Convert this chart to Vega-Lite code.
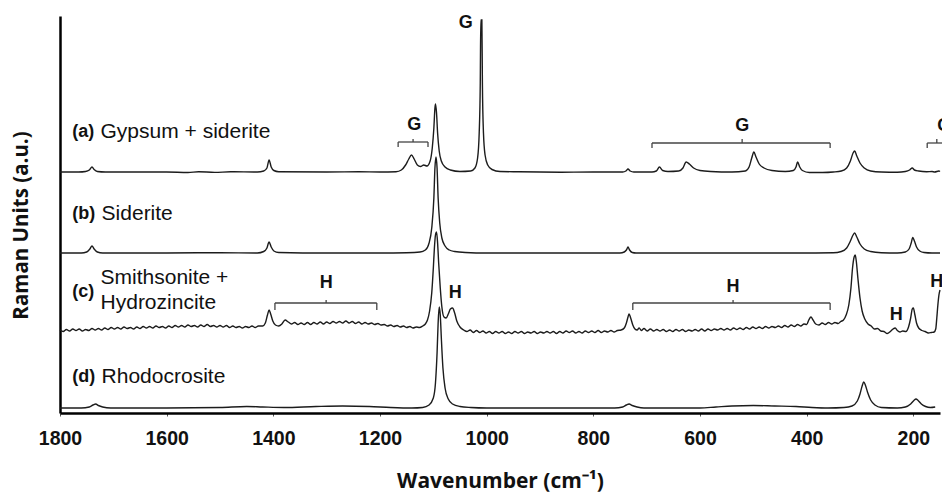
{
  "$schema": "https://vega.github.io/schema/vega-lite/v6.json",
  "width": 880,
  "height": 397,
  "autosize": {"type": "none"},
  "padding": {"left": 60, "top": 16, "right": 2, "bottom": 79},
  "background": "white",
  "config": {"view": {"stroke": null}},
  "datasets": {
    "spec": [
      {"s":"a","x":1800,"y":241},{"s":"a","x":1765,"y":241},{"s":"a","x":1752,"y":241.5},{"s":"a","x":1745,"y":243},{"s":"a","x":1740,"y":246},{"s":"a","x":1736,"y":243.5},{"s":"a","x":1730,"y":241.5},{"s":"a","x":1715,"y":241},{"s":"a","x":1600,"y":241},{"s":"a","x":1560,"y":240.5},{"s":"a","x":1540,"y":241.3},{"s":"a","x":1510,"y":240.6},{"s":"a","x":1480,"y":241.2},{"s":"a","x":1430,"y":241},{"s":"a","x":1418,"y":242},{"s":"a","x":1412,"y":245},{"s":"a","x":1408,"y":253},{"s":"a","x":1404,"y":246},{"s":"a","x":1399,"y":242.5},{"s":"a","x":1390,"y":241.3},{"s":"a","x":1300,"y":241},{"s":"a","x":1240,"y":241.3},{"s":"a","x":1200,"y":241},{"s":"a","x":1170,"y":241.3},{"s":"a","x":1160,"y":243},{"s":"a","x":1152,"y":248},{"s":"a","x":1146,"y":254},{"s":"a","x":1141,"y":258},{"s":"a","x":1136,"y":254},{"s":"a","x":1130,"y":248},{"s":"a","x":1124,"y":246.5},{"s":"a","x":1118,"y":248},{"s":"a","x":1112,"y":247},{"s":"a","x":1106,"y":252},{"s":"a","x":1102,"y":265},{"s":"a","x":1099,"y":285},{"s":"a","x":1097,"y":305},{"s":"a","x":1096,"y":309},{"s":"a","x":1094,"y":300},{"s":"a","x":1092,"y":280},{"s":"a","x":1089,"y":262},{"s":"a","x":1085,"y":252},{"s":"a","x":1078,"y":246},{"s":"a","x":1068,"y":243},{"s":"a","x":1050,"y":241.5},{"s":"a","x":1030,"y":242},{"s":"a","x":1022,"y":245},{"s":"a","x":1017,"y":255},{"s":"a","x":1014,"y":280},{"s":"a","x":1012,"y":330},{"s":"a","x":1011,"y":393},{"s":"a","x":1009,"y":393},{"s":"a","x":1008,"y":330},{"s":"a","x":1006,"y":280},{"s":"a","x":1003,"y":258},{"s":"a","x":998,"y":248},{"s":"a","x":990,"y":243.5},{"s":"a","x":975,"y":241.5},{"s":"a","x":940,"y":241.2},{"s":"a","x":860,"y":240.8},{"s":"a","x":800,"y":241},{"s":"a","x":745,"y":241},{"s":"a","x":739,"y":242},{"s":"a","x":735,"y":244},{"s":"a","x":731,"y":242},{"s":"a","x":724,"y":241},{"s":"a","x":690,"y":241},{"s":"a","x":682,"y":242},{"s":"a","x":676,"y":246},{"s":"a","x":670,"y":242.5},{"s":"a","x":660,"y":241.5},{"s":"a","x":640,"y":242},{"s":"a","x":632,"y":245},{"s":"a","x":626,"y":251},{"s":"a","x":620,"y":249},{"s":"a","x":612,"y":245},{"s":"a","x":600,"y":242.5},{"s":"a","x":580,"y":241.5},{"s":"a","x":540,"y":241},{"s":"a","x":515,"y":242},{"s":"a","x":508,"y":246},{"s":"a","x":503,"y":255},{"s":"a","x":499,"y":261},{"s":"a","x":495,"y":256},{"s":"a","x":489,"y":249},{"s":"a","x":480,"y":245},{"s":"a","x":465,"y":242.5},{"s":"a","x":440,"y":241.5},{"s":"a","x":425,"y":242.5},{"s":"a","x":420,"y":246},{"s":"a","x":417,"y":251},{"s":"a","x":413,"y":246},{"s":"a","x":408,"y":242.5},{"s":"a","x":395,"y":240.5},{"s":"a","x":370,"y":240.5},{"s":"a","x":350,"y":241},{"s":"a","x":335,"y":242},{"s":"a","x":325,"y":245},{"s":"a","x":318,"y":252},{"s":"a","x":313,"y":260},{"s":"a","x":310,"y":262},{"s":"a","x":306,"y":257},{"s":"a","x":300,"y":250},{"s":"a","x":292,"y":245},{"s":"a","x":280,"y":242},{"s":"a","x":260,"y":241},{"s":"a","x":230,"y":240.8},{"s":"a","x":215,"y":241.5},{"s":"a","x":207,"y":243},{"s":"a","x":202,"y":245},{"s":"a","x":198,"y":243},{"s":"a","x":190,"y":242},{"s":"a","x":175,"y":241.3},{"s":"a","x":165,"y":241.5},{"s":"a","x":160,"y":241},{"s":"a","x":152,"y":242},{"s":"a","x":150,"y":241.5},

      {"s":"b","x":1800,"y":160},{"s":"b","x":1760,"y":160},{"s":"b","x":1750,"y":161},{"s":"b","x":1744,"y":164},{"s":"b","x":1740,"y":167},{"s":"b","x":1736,"y":164},{"s":"b","x":1730,"y":161},{"s":"b","x":1720,"y":160},{"s":"b","x":1600,"y":160},{"s":"b","x":1500,"y":160.3},{"s":"b","x":1430,"y":160},{"s":"b","x":1418,"y":161.5},{"s":"b","x":1412,"y":165},{"s":"b","x":1408,"y":171},{"s":"b","x":1404,"y":166},{"s":"b","x":1399,"y":162},{"s":"b","x":1390,"y":160.5},{"s":"b","x":1300,"y":160},{"s":"b","x":1200,"y":160},{"s":"b","x":1150,"y":160.3},{"s":"b","x":1125,"y":161},{"s":"b","x":1115,"y":163},{"s":"b","x":1108,"y":170},{"s":"b","x":1103,"y":185},{"s":"b","x":1099,"y":215},{"s":"b","x":1097,"y":245},{"s":"b","x":1095,"y":256},{"s":"b","x":1093,"y":245},{"s":"b","x":1091,"y":215},{"s":"b","x":1088,"y":190},{"s":"b","x":1084,"y":175},{"s":"b","x":1078,"y":167},{"s":"b","x":1070,"y":163},{"s":"b","x":1060,"y":161.5},{"s":"b","x":1040,"y":160.5},{"s":"b","x":1000,"y":160},{"s":"b","x":900,"y":160},{"s":"b","x":750,"y":160},{"s":"b","x":742,"y":161},{"s":"b","x":738,"y":163},{"s":"b","x":735,"y":166},{"s":"b","x":732,"y":163},{"s":"b","x":727,"y":160.5},{"s":"b","x":720,"y":160},{"s":"b","x":600,"y":160},{"s":"b","x":500,"y":160},{"s":"b","x":400,"y":160},{"s":"b","x":350,"y":160.2},{"s":"b","x":335,"y":161.5},{"s":"b","x":325,"y":165},{"s":"b","x":318,"y":172},{"s":"b","x":313,"y":178},{"s":"b","x":310,"y":180},{"s":"b","x":306,"y":176},{"s":"b","x":300,"y":169},{"s":"b","x":292,"y":164},{"s":"b","x":280,"y":161.5},{"s":"b","x":260,"y":160.3},{"s":"b","x":230,"y":160},{"s":"b","x":215,"y":161},{"s":"b","x":208,"y":164},{"s":"b","x":204,"y":170},{"s":"b","x":201,"y":175.5},{"s":"b","x":198,"y":172},{"s":"b","x":194,"y":166},{"s":"b","x":188,"y":162},{"s":"b","x":180,"y":160.5},{"s":"b","x":165,"y":160},{"s":"b","x":150,"y":160},

      {"s":"c","x":1800,"y":83},{"s":"c","x":1794,"y":81.5},{"s":"c","x":1788,"y":83.5},{"s":"c","x":1782,"y":82},{"s":"c","x":1776,"y":84},{"s":"c","x":1770,"y":82.5},{"s":"c","x":1764,"y":84},{"s":"c","x":1758,"y":82},{"s":"c","x":1752,"y":83.5},{"s":"c","x":1746,"y":82.5},{"s":"c","x":1740,"y":84.5},{"s":"c","x":1734,"y":83},{"s":"c","x":1728,"y":84.5},{"s":"c","x":1722,"y":83},{"s":"c","x":1716,"y":85},{"s":"c","x":1710,"y":83.5},{"s":"c","x":1704,"y":85.5},{"s":"c","x":1698,"y":84},{"s":"c","x":1692,"y":85.5},{"s":"c","x":1686,"y":84},{"s":"c","x":1680,"y":86},{"s":"c","x":1674,"y":84.5},{"s":"c","x":1668,"y":85.5},{"s":"c","x":1662,"y":84},{"s":"c","x":1656,"y":86},{"s":"c","x":1650,"y":84.5},{"s":"c","x":1644,"y":86.5},{"s":"c","x":1638,"y":85},{"s":"c","x":1632,"y":86.5},{"s":"c","x":1626,"y":85},{"s":"c","x":1620,"y":87},{"s":"c","x":1614,"y":85.5},{"s":"c","x":1608,"y":86.5},{"s":"c","x":1602,"y":85},{"s":"c","x":1596,"y":87},{"s":"c","x":1590,"y":85.5},{"s":"c","x":1584,"y":87.5},{"s":"c","x":1578,"y":86},{"s":"c","x":1572,"y":87.5},{"s":"c","x":1566,"y":86},{"s":"c","x":1560,"y":88},{"s":"c","x":1554,"y":86.5},{"s":"c","x":1548,"y":87.5},{"s":"c","x":1542,"y":86},{"s":"c","x":1536,"y":88},{"s":"c","x":1530,"y":86.5},{"s":"c","x":1524,"y":88.5},{"s":"c","x":1518,"y":86.5},{"s":"c","x":1512,"y":87.5},{"s":"c","x":1506,"y":86},{"s":"c","x":1500,"y":87.5},{"s":"c","x":1494,"y":86},{"s":"c","x":1488,"y":87.5},{"s":"c","x":1482,"y":85.5},{"s":"c","x":1476,"y":87},{"s":"c","x":1470,"y":85.5},{"s":"c","x":1464,"y":86.5},{"s":"c","x":1458,"y":85},{"s":"c","x":1452,"y":86.5},{"s":"c","x":1446,"y":85.5},{"s":"c","x":1440,"y":87},{"s":"c","x":1434,"y":85.5},{"s":"c","x":1428,"y":87},{"s":"c","x":1420,"y":87},{"s":"c","x":1415,"y":90},{"s":"c","x":1411,"y":98},{"s":"c","x":1408,"y":103},{"s":"c","x":1405,"y":99},{"s":"c","x":1401,"y":92},{"s":"c","x":1396,"y":88},{"s":"c","x":1390,"y":87},{"s":"c","x":1384,"y":89},{"s":"c","x":1378,"y":93},{"s":"c","x":1372,"y":91},{"s":"c","x":1366,"y":89},{"s":"c","x":1360,"y":90.5},{"s":"c","x":1354,"y":88.5},{"s":"c","x":1348,"y":90},{"s":"c","x":1342,"y":88.5},{"s":"c","x":1336,"y":90.5},{"s":"c","x":1330,"y":88.5},{"s":"c","x":1324,"y":90.5},{"s":"c","x":1318,"y":89},{"s":"c","x":1312,"y":91},{"s":"c","x":1306,"y":89},{"s":"c","x":1300,"y":91},{"s":"c","x":1294,"y":89.5},{"s":"c","x":1288,"y":91.5},{"s":"c","x":1282,"y":90},{"s":"c","x":1276,"y":91.5},{"s":"c","x":1270,"y":90},{"s":"c","x":1264,"y":92},{"s":"c","x":1258,"y":90},{"s":"c","x":1252,"y":91.5},{"s":"c","x":1246,"y":89.5},{"s":"c","x":1240,"y":91},{"s":"c","x":1234,"y":89},{"s":"c","x":1228,"y":90.5},{"s":"c","x":1222,"y":89},{"s":"c","x":1216,"y":90},{"s":"c","x":1210,"y":88.5},{"s":"c","x":1204,"y":89.5},{"s":"c","x":1198,"y":88},{"s":"c","x":1192,"y":88.5},{"s":"c","x":1186,"y":87},{"s":"c","x":1180,"y":88},{"s":"c","x":1174,"y":86.5},{"s":"c","x":1168,"y":87.5},{"s":"c","x":1162,"y":86},{"s":"c","x":1156,"y":87},{"s":"c","x":1150,"y":85.5},{"s":"c","x":1144,"y":86.5},{"s":"c","x":1138,"y":85},{"s":"c","x":1132,"y":86},{"s":"c","x":1126,"y":85.5},{"s":"c","x":1120,"y":87},{"s":"c","x":1115,"y":89},{"s":"c","x":1111,"y":93},{"s":"c","x":1107,"y":102},{"s":"c","x":1103,"y":120},{"s":"c","x":1100,"y":145},{"s":"c","x":1098,"y":165},{"s":"c","x":1096,"y":178},{"s":"c","x":1094,"y":181},{"s":"c","x":1092,"y":170},{"s":"c","x":1090,"y":150},{"s":"c","x":1087,"y":125},{"s":"c","x":1084,"y":106},{"s":"c","x":1080,"y":96},{"s":"c","x":1076,"y":95},{"s":"c","x":1072,"y":99},{"s":"c","x":1068,"y":104},{"s":"c","x":1064,"y":105},{"s":"c","x":1060,"y":100},{"s":"c","x":1056,"y":92},{"s":"c","x":1050,"y":86},{"s":"c","x":1043,"y":83},{"s":"c","x":1037,"y":81.5},{"s":"c","x":1031,"y":83},{"s":"c","x":1025,"y":80.5},{"s":"c","x":1019,"y":82.5},{"s":"c","x":1013,"y":80.5},{"s":"c","x":1007,"y":82},{"s":"c","x":1001,"y":80},{"s":"c","x":995,"y":81.5},{"s":"c","x":989,"y":79.5},{"s":"c","x":983,"y":81.5},{"s":"c","x":977,"y":80},{"s":"c","x":971,"y":81.5},{"s":"c","x":965,"y":79.5},{"s":"c","x":959,"y":81},{"s":"c","x":953,"y":79.5},{"s":"c","x":947,"y":81.5},{"s":"c","x":941,"y":80},{"s":"c","x":935,"y":81.5},{"s":"c","x":929,"y":79.5},{"s":"c","x":923,"y":81},{"s":"c","x":917,"y":80},{"s":"c","x":911,"y":81.5},{"s":"c","x":905,"y":79.5},{"s":"c","x":899,"y":81},{"s":"c","x":893,"y":80},{"s":"c","x":887,"y":81.5},{"s":"c","x":881,"y":80},{"s":"c","x":875,"y":81.5},{"s":"c","x":869,"y":79.5},{"s":"c","x":863,"y":81.5},{"s":"c","x":857,"y":80},{"s":"c","x":851,"y":82},{"s":"c","x":845,"y":80.5},{"s":"c","x":839,"y":82},{"s":"c","x":833,"y":80},{"s":"c","x":827,"y":81.5},{"s":"c","x":821,"y":80},{"s":"c","x":815,"y":82},{"s":"c","x":809,"y":80.5},{"s":"c","x":803,"y":82},{"s":"c","x":797,"y":80.5},{"s":"c","x":791,"y":82.5},{"s":"c","x":785,"y":80.5},{"s":"c","x":779,"y":82},{"s":"c","x":773,"y":81},{"s":"c","x":767,"y":82.5},{"s":"c","x":761,"y":81},{"s":"c","x":755,"y":82.5},{"s":"c","x":748,"y":83},{"s":"c","x":742,"y":85},{"s":"c","x":738,"y":90},{"s":"c","x":735,"y":96},{"s":"c","x":733,"y":99},{"s":"c","x":730,"y":95},{"s":"c","x":726,"y":88},{"s":"c","x":722,"y":84},{"s":"c","x":718,"y":83},{"s":"c","x":714,"y":85},{"s":"c","x":710,"y":82.5},{"s":"c","x":705,"y":84.5},{"s":"c","x":699,"y":82},{"s":"c","x":693,"y":84},{"s":"c","x":687,"y":82},{"s":"c","x":681,"y":83.5},{"s":"c","x":675,"y":82},{"s":"c","x":669,"y":83.5},{"s":"c","x":663,"y":81.5},{"s":"c","x":657,"y":83},{"s":"c","x":651,"y":81.5},{"s":"c","x":645,"y":83.5},{"s":"c","x":639,"y":82},{"s":"c","x":633,"y":83.5},{"s":"c","x":627,"y":81.5},{"s":"c","x":621,"y":83},{"s":"c","x":615,"y":82},{"s":"c","x":609,"y":83.5},{"s":"c","x":603,"y":82},{"s":"c","x":597,"y":84},{"s":"c","x":591,"y":82},{"s":"c","x":585,"y":84},{"s":"c","x":579,"y":82.5},{"s":"c","x":573,"y":84},{"s":"c","x":567,"y":83},{"s":"c","x":561,"y":84.5},{"s":"c","x":555,"y":83},{"s":"c","x":549,"y":84.5},{"s":"c","x":543,"y":83},{"s":"c","x":537,"y":85},{"s":"c","x":531,"y":83.5},{"s":"c","x":525,"y":85},{"s":"c","x":519,"y":83.5},{"s":"c","x":513,"y":85.5},{"s":"c","x":507,"y":84},{"s":"c","x":501,"y":86},{"s":"c","x":495,"y":84.5},{"s":"c","x":489,"y":86},{"s":"c","x":483,"y":84.5},{"s":"c","x":477,"y":86.5},{"s":"c","x":471,"y":85},{"s":"c","x":465,"y":86.5},{"s":"c","x":459,"y":85.5},{"s":"c","x":453,"y":87},{"s":"c","x":447,"y":85.5},{"s":"c","x":441,"y":87.5},{"s":"c","x":435,"y":86},{"s":"c","x":429,"y":88},{"s":"c","x":423,"y":86.5},{"s":"c","x":417,"y":88.5},{"s":"c","x":411,"y":87},{"s":"c","x":405,"y":89},{"s":"c","x":400,"y":88.5},{"s":"c","x":396,"y":93},{"s":"c","x":392,"y":96},{"s":"c","x":388,"y":93},{"s":"c","x":383,"y":89},{"s":"c","x":377,"y":88},{"s":"c","x":371,"y":90},{"s":"c","x":365,"y":88.5},{"s":"c","x":359,"y":90.5},{"s":"c","x":353,"y":89},{"s":"c","x":347,"y":90.5},{"s":"c","x":341,"y":89.5},{"s":"c","x":336,"y":91.5},{"s":"c","x":331,"y":93},{"s":"c","x":326,"y":98},{"s":"c","x":321,"y":108},{"s":"c","x":317,"y":125},{"s":"c","x":314,"y":145},{"s":"c","x":311,"y":156},{"s":"c","x":309,"y":158},{"s":"c","x":307,"y":152},{"s":"c","x":304,"y":135},{"s":"c","x":300,"y":115},{"s":"c","x":296,"y":102},{"s":"c","x":291,"y":94},{"s":"c","x":285,"y":89},{"s":"c","x":279,"y":87},{"s":"c","x":273,"y":84},{"s":"c","x":267,"y":84.5},{"s":"c","x":261,"y":82},{"s":"c","x":255,"y":81.5},{"s":"c","x":249,"y":79.5},{"s":"c","x":243,"y":81.5},{"s":"c","x":238,"y":84},{"s":"c","x":234,"y":85},{"s":"c","x":230,"y":82.5},{"s":"c","x":225,"y":81},{"s":"c","x":220,"y":82},{"s":"c","x":214,"y":81.5},{"s":"c","x":209,"y":86},{"s":"c","x":205,"y":95},{"s":"c","x":202,"y":104},{"s":"c","x":200,"y":105},{"s":"c","x":197,"y":98},{"s":"c","x":194,"y":90},{"s":"c","x":190,"y":85},{"s":"c","x":184,"y":82.5},{"s":"c","x":178,"y":81.5},{"s":"c","x":172,"y":80},{"s":"c","x":166,"y":80.5},{"s":"c","x":161,"y":81},{"s":"c","x":158,"y":84},{"s":"c","x":156,"y":95},{"s":"c","x":154,"y":108},{"s":"c","x":152,"y":118},{"s":"c","x":150,"y":123},

      {"s":"d","x":1800,"y":5},{"s":"d","x":1760,"y":5},{"s":"d","x":1745,"y":6},{"s":"d","x":1738,"y":8},{"s":"d","x":1733,"y":9},{"s":"d","x":1728,"y":7.5},{"s":"d","x":1720,"y":6},{"s":"d","x":1705,"y":5},{"s":"d","x":1600,"y":5},{"s":"d","x":1500,"y":5.5},{"s":"d","x":1450,"y":6.5},{"s":"d","x":1420,"y":6},{"s":"d","x":1380,"y":5.5},{"s":"d","x":1320,"y":6.5},{"s":"d","x":1270,"y":7},{"s":"d","x":1220,"y":6.5},{"s":"d","x":1180,"y":5.5},{"s":"d","x":1140,"y":5},{"s":"d","x":1120,"y":5.5},{"s":"d","x":1108,"y":8},{"s":"d","x":1100,"y":15},{"s":"d","x":1096,"y":30},{"s":"d","x":1093,"y":60},{"s":"d","x":1091,"y":90},{"s":"d","x":1089,"y":106},{"s":"d","x":1087,"y":98},{"s":"d","x":1085,"y":75},{"s":"d","x":1082,"y":45},{"s":"d","x":1078,"y":25},{"s":"d","x":1072,"y":14},{"s":"d","x":1064,"y":9},{"s":"d","x":1050,"y":6.5},{"s":"d","x":1030,"y":5.5},{"s":"d","x":1000,"y":5},{"s":"d","x":900,"y":5},{"s":"d","x":760,"y":5},{"s":"d","x":745,"y":6},{"s":"d","x":738,"y":8},{"s":"d","x":733,"y":9},{"s":"d","x":727,"y":7.5},{"s":"d","x":718,"y":6},{"s":"d","x":705,"y":5},{"s":"d","x":650,"y":5},{"s":"d","x":600,"y":5},{"s":"d","x":570,"y":6},{"s":"d","x":540,"y":7},{"s":"d","x":500,"y":7.5},{"s":"d","x":460,"y":7},{"s":"d","x":420,"y":6.5},{"s":"d","x":390,"y":5.5},{"s":"d","x":360,"y":5},{"s":"d","x":330,"y":5.5},{"s":"d","x":315,"y":7},{"s":"d","x":305,"y":12},{"s":"d","x":300,"y":19},{"s":"d","x":296,"y":27},{"s":"d","x":293,"y":31},{"s":"d","x":290,"y":28},{"s":"d","x":286,"y":21},{"s":"d","x":280,"y":13},{"s":"d","x":272,"y":8},{"s":"d","x":260,"y":5.5},{"s":"d","x":230,"y":5},{"s":"d","x":215,"y":6},{"s":"d","x":205,"y":9},{"s":"d","x":199,"y":12.5},{"s":"d","x":195,"y":14},{"s":"d","x":191,"y":12.5},{"s":"d","x":185,"y":9},{"s":"d","x":177,"y":6.5},{"s":"d","x":168,"y":5.5},{"s":"d","x":159,"y":6}
    ],
    "tags": [
      {"t":"(a)","x":1777,"y":281},
      {"t":"(b)","x":1777,"y":199},
      {"t":"(c)","x":1777,"y":121},
      {"t":"(d)","x":1777,"y":36}
    ],
    "names": [
      {"t":"Gypsum + siderite","x":1724,"y":281},
      {"t":"Siderite","x":1722,"y":199},
      {"t":"Smithsonite +","x":1724,"y":135},
      {"t":"Hydrozincite","x":1724,"y":110},
      {"t":"Rhodocrosite","x":1722,"y":36}
    ],
    "letters": [
      {"t":"G","x":1039,"y":390},
      {"t":"G","x":1136,"y":288},
      {"t":"G","x":521,"y":287},
      {"t":"G","x":142,"y":287},
      {"t":"H","x":1301,"y":130},
      {"t":"H","x":1059,"y":120},
      {"t":"H","x":538,"y":126},
      {"t":"H","x":232,"y":98},
      {"t":"H","x":156,"y":131}
    ],
    "brackets": [
      {"x":1166,"x2":1110,"y":271,"y2":271},{"x":1166,"x2":1166,"y":271,"y2":266},{"x":1110,"x2":1110,"y":271,"y2":266},{"x":1138,"x2":1138,"y":271,"y2":274},
      {"x":690,"x2":356,"y":270,"y2":270},{"x":690,"x2":690,"y":270,"y2":265},{"x":356,"x2":356,"y":270,"y2":265},{"x":521,"x2":521,"y":270,"y2":274},
      {"x":174,"x2":135,"y":270,"y2":270},{"x":174,"x2":174,"y":270,"y2":265},{"x":156,"x2":156,"y":270,"y2":274},
      {"x":1397,"x2":1206,"y":110,"y2":110},{"x":1397,"x2":1397,"y":110,"y2":103},{"x":1206,"x2":1206,"y":110,"y2":103},{"x":1301,"x2":1301,"y":110,"y2":113},
      {"x":726,"x2":356,"y":110,"y2":110},{"x":726,"x2":726,"y":110,"y2":103},{"x":356,"x2":356,"y":110,"y2":103},{"x":538,"x2":538,"y":110,"y2":113}
    ]
  },
  "layer": [
    {
      "data": {"name": "brackets"},
      "mark": {"type": "rule", "color": "#444", "strokeWidth": 1.3},
      "encoding": {
        "x": {"field": "x", "type": "quantitative"},
        "x2": {"field": "x2"},
        "y": {"field": "y", "type": "quantitative"},
        "y2": {"field": "y2"}
      }
    },
    {
      "data": {"name": "spec"},
      "mark": {"type": "line", "color": "#1c1c1c", "strokeWidth": 1.4, "interpolate": "monotone"},
      "encoding": {
        "x": {
          "field": "x", "type": "quantitative",
          "scale": {"domain": [150, 1800], "reverse": true, "nice": false, "zero": false},
          "axis": {
            "title": "Wavenumber (cm⁻¹)",
            "values": [200, 400, 600, 800, 1000, 1200, 1400, 1600, 1800],
            "format": "d",
            "grid": false,
            "labelFlush": false,
            "labelOverlap": false,
            "labelBound": false,
            "labelFont": "Liberation Sans",
            "labelFontSize": 19.5,
            "labelFontWeight": "bold",
            "labelColor": "#111",
            "labelBaseline": "alphabetic",
            "labelPadding": 28,
            "domainColor": "#000",
            "domainWidth": 2.5,
            "tickColor": "#555",
            "tickSize": 3,
            "tickWidth": 1,
            "titleFont": "Open Sans",
            "titleFontSize": 21,
            "titleFontWeight": "bold",
            "titleColor": "#111",
            "titleBaseline": "alphabetic",
            "titleY": 74
          }
        },
        "y": {
          "field": "y", "type": "quantitative",
          "scale": {"domain": [0, 397], "nice": false, "zero": false},
          "axis": {
            "title": "Raman Units (a.u.)",
            "labels": false,
            "ticks": false,
            "grid": false,
            "domainColor": "#000",
            "domainWidth": 2.5,
            "titleFont": "Open Sans",
            "titleFontSize": 20.5,
            "titleFontWeight": "bold",
            "titleColor": "#111",
            "titleBaseline": "middle",
            "titleAlign": "center",
            "titleAngle": -90,
            "titleX": -39,
            "titleY": 209
          }
        },
        "detail": {"field": "s"}
      }
    },
    {
      "data": {"name": "tags"},
      "mark": {"type": "text", "align": "left", "baseline": "middle", "font": "Liberation Sans", "fontSize": 18, "fontWeight": "bold", "color": "#111"},
      "encoding": {
        "x": {"field": "x", "type": "quantitative"},
        "y": {"field": "y", "type": "quantitative"},
        "text": {"field": "t"}
      }
    },
    {
      "data": {"name": "names"},
      "mark": {"type": "text", "align": "left", "baseline": "middle", "font": "Liberation Sans", "fontSize": 21, "color": "#111"},
      "encoding": {
        "x": {"field": "x", "type": "quantitative"},
        "y": {"field": "y", "type": "quantitative"},
        "text": {"field": "t"}
      }
    },
    {
      "data": {"name": "letters"},
      "mark": {"type": "text", "align": "center", "baseline": "middle", "font": "Liberation Sans", "fontSize": 18, "fontWeight": "bold", "color": "#111"},
      "encoding": {
        "x": {"field": "x", "type": "quantitative"},
        "y": {"field": "y", "type": "quantitative"},
        "text": {"field": "t"}
      }
    }
  ]
}
